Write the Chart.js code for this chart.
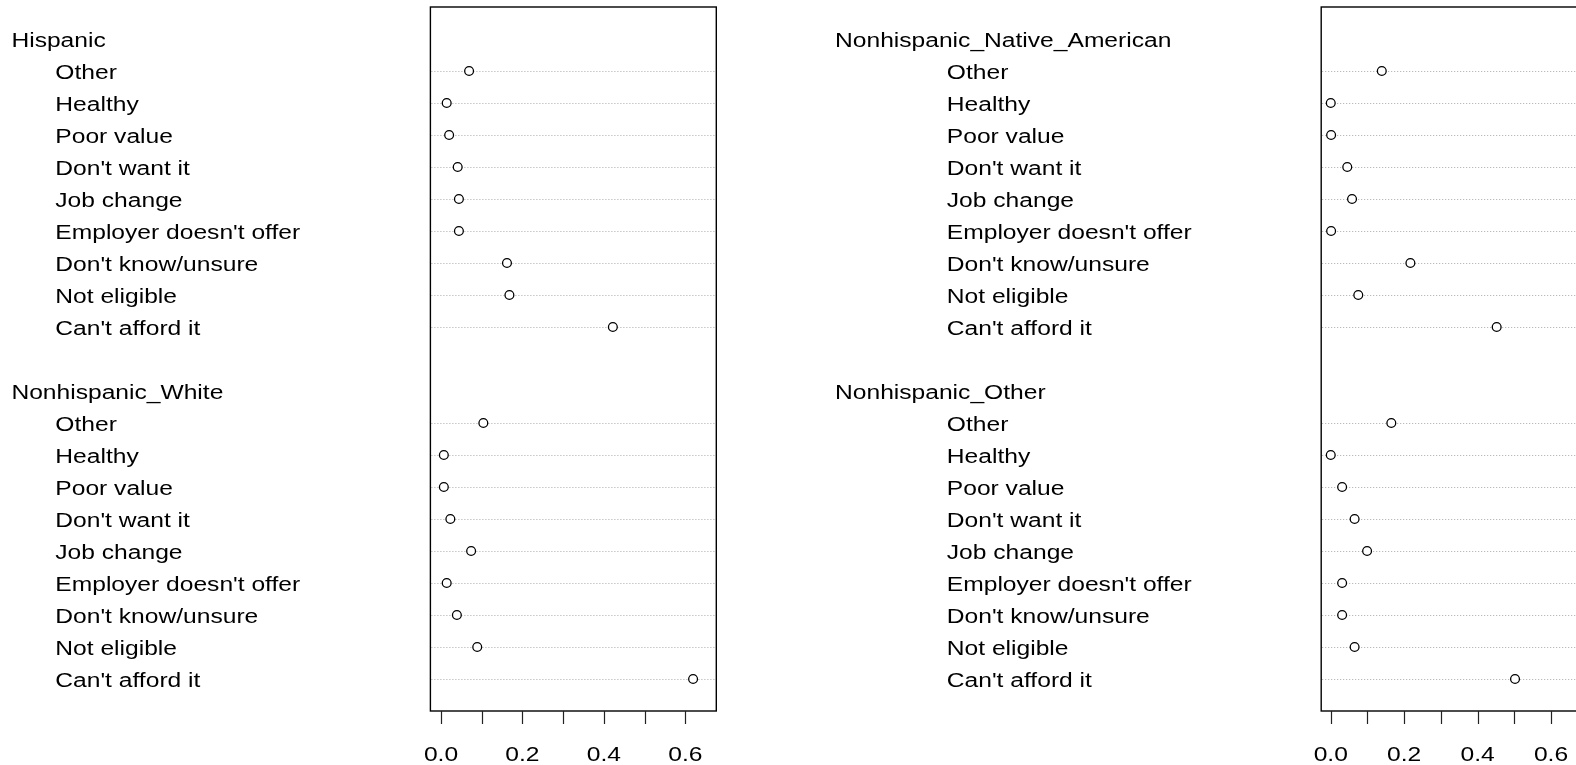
<!DOCTYPE html>
<html>
<head>
  <meta charset="utf-8">
  <title>Reasons by ethnicity</title>
  <style>
    html, body {
      margin: 0;
      background: #fff;
      overflow: hidden;
      width: 1576px;
      height: 765px;
    }
    canvas {
      position: absolute;
      top: 0;
    }
    #leftChart { left: 0; }
    #rightChart { left: 790px; }
  </style>
</head>
<body>

  <canvas id="leftChart" width="780" height="765"></canvas>
  <canvas id="rightChart" width="800" height="765"></canvas>

  <script src="https://cdn.jsdelivr.net/npm/chart.js"></script>

  <script>
    // reasons, top to bottom within each group
    const reasons = [
      'Other', 'Healthy', 'Poor value', "Don't want it", 'Job change',
      "Employer doesn't offer", "Don't know/unsure", 'Not eligible', "Can't afford it"
    ];

    const leftGroups = ['Hispanic', 'Nonhispanic_White'];
    const rightGroups = ['Nonhispanic_Native_American', 'Nonhispanic_Other'];

    const hispanic = [0.069, 0.014, 0.020, 0.041, 0.044, 0.044, 0.162, 0.168, 0.422];
    const white = [0.104, 0.007, 0.007, 0.023, 0.074, 0.014, 0.039, 0.089, 0.619];
    const nativeAmerican = [0.139, 0.000, 0.001, 0.045, 0.058, 0.001, 0.217, 0.075, 0.452];
    const otherEthnicity = [0.165, 0.000, 0.031, 0.065, 0.099, 0.031, 0.031, 0.065, 0.502];

    const xTicks = [0, 0.1, 0.2, 0.3, 0.4, 0.5, 0.6];
    const xTickLabels = ['0.0', '', '0.2', '', '0.4', '', '0.6'];
    const xMin = -0.026, xMax = 0.676;

    const FONT = '20px "Liberation Sans", Arial, sans-serif';
    const STRETCH = 1.23;

    // rows: group header at 1 and 12, items follow
    function rowsFor(groups) {
      const out = [];
      groups.forEach((g, gi) => {
        const head = gi * 11 + 1;
        out.push({ text: g, row: head, header: true });
        reasons.forEach((r, ri) => out.push({ text: r, row: head + 1 + ri, header: false }));
      });
      return out;
    }

    function toPoints(values, groupIndex) {
      return values.map((v, i) => ({ x: v, y: groupIndex * 11 + 2 + i }));
    }

    function drawText(ctx, text, x, y, align) {
      ctx.save();
      ctx.translate(x, y);
      ctx.scale(STRETCH, 1);
      ctx.textAlign = align;
      ctx.fillText(text, 0, 0);
      ctx.restore();
    }

    const dotFrame = {
      id: 'dotFrame',
      beforeDatasetsDraw(chart, args, opts) {
        const ctx = chart.ctx;
        const a = chart.chartArea;
        const ys = chart.scales.y;
        ctx.save();
        // dotted guide lines
        ctx.strokeStyle = '#aaaaaa';
        ctx.lineWidth = 1;
        ctx.setLineDash([1, 2]);
        opts.rows.filter(r => !r.header).forEach(r => {
          const y = Math.round(ys.getPixelForValue(r.row)) + 0.5;
          ctx.beginPath();
          ctx.moveTo(a.left + 1, y);
          ctx.lineTo(a.right - 1, y);
          ctx.stroke();
        });
        ctx.setLineDash([]);
        ctx.restore();
      },
      afterDatasetsDraw(chart, args, opts) {
        const ctx = chart.ctx;
        const a = chart.chartArea;
        const xs = chart.scales.x, ys = chart.scales.y;
        ctx.save();
        // box
        ctx.strokeStyle = '#000';
        ctx.lineWidth = 1.4;
        ctx.strokeRect(a.left, a.top, a.right - a.left, a.bottom - a.top);
        // x ticks
        ctx.strokeStyle = '#222';
        ctx.lineWidth = 1.2;
        ctx.fillStyle = '#000';
        ctx.font = FONT;
        xTicks.forEach((t, i) => {
          const x = Math.round(xs.getPixelForValue(t)) + 0.5;
          ctx.beginPath();
          ctx.moveTo(x, a.bottom);
          ctx.lineTo(x, a.bottom + 13);
          ctx.stroke();
          if (xTickLabels[i]) drawText(ctx, xTickLabels[i], xs.getPixelForValue(t), 761, 'center');
        });
        // row labels
        opts.rows.forEach(r => {
          const y = ys.getPixelForValue(r.row) + 8.3;
          drawText(ctx, r.text, r.header ? opts.groupX : opts.itemX, y, 'left');
        });
        ctx.restore();
      }
    };

    function makeChart(id, groups, series, pad, groupX, itemX) {
      const datasets = series.map((vals, gi) => ({
        data: toPoints(vals, gi),
        pointRadius: 4.4,
        pointHoverRadius: 4.4,
        pointBackgroundColor: '#fff',
        pointBorderColor: '#000',
        pointBorderWidth: 1.3,
        showLine: false
      }));
      return new Chart(document.getElementById(id), {
        type: 'scatter',
        data: { datasets },
        options: {
          responsive: false,
          animation: false,
          events: [],
          layout: { padding: pad },
          scales: {
            x: { type: 'linear', min: xMin, max: xMax, display: false },
            y: { type: 'linear', min: 0, max: 22, reverse: true, display: false }
          },
          plugins: {
            legend: { display: false },
            tooltip: { enabled: false },
            dotFrame: { rows: rowsFor(groups), groupX, itemX }
          }
        },
        plugins: [dotFrame]
      });
    }

    // left panel: plot box x 430.4..716.3, y 7..711
    makeChart('leftChart', leftGroups, [hispanic, white],
      { left: 430.4, right: 780 - 716.3, top: 7, bottom: 765 - 711 }, 11.4, 55.3);

    // right panel (canvas starts at 790): box x 1321.2..1578.9
    makeChart('rightChart', rightGroups, [nativeAmerican, otherEthnicity],
      { left: 1321.2 - 790, right: 800 - (1578.9 - 790), top: 7, bottom: 765 - 711 }, 835 - 790, 946.8 - 790);
  </script>
</body>
</html>
